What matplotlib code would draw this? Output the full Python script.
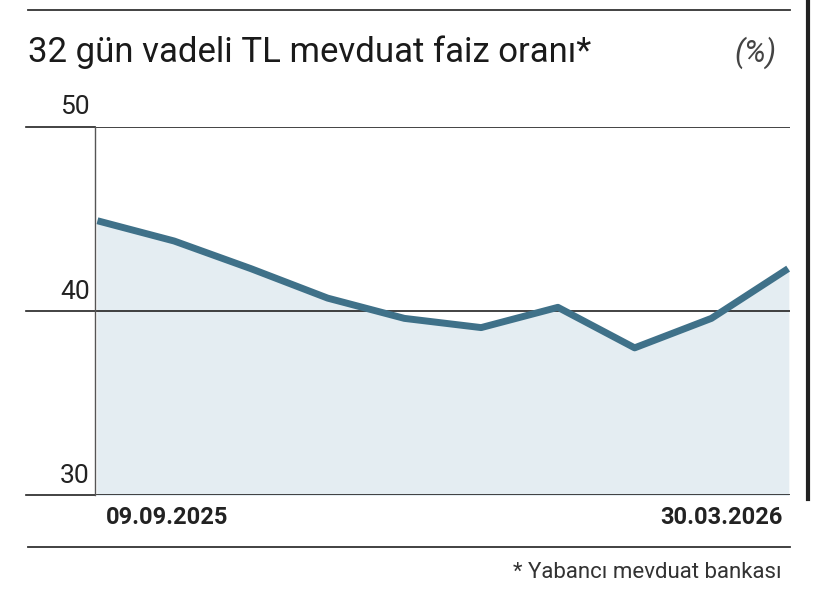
import matplotlib.pyplot as plt
from matplotlib.lines import Line2D

plt.rcParams['font.family'] = ['Liberation Sans Narrow', 'Roboto', 'DejaVu Sans']

# Data
dates = ['09.09.2025', '', '', '', '', '', '', '', '', '30.03.2026']
rates = [44.9, 43.8, 42.3, 40.7, 39.6, 39.1, 40.2, 38.0, 39.6, 42.3]
yticks = [30, 40, 50]

line_col = '#3f7189'
fill_col = '#e4edf2'

fig = plt.figure(figsize=(8.2, 6.01), dpi=100)
fig.set_facecolor('white')
ax = fig.add_axes([0.116, 0.176, 0.847, 0.613])

x = list(range(len(rates)))
ax.fill_between(x, rates, 30, color=fill_col, zorder=1)
ax.plot(x, rates, color=line_col, lw=5, solid_capstyle='butt', solid_joinstyle='round', zorder=3)

ax.set_xlim(-0.03, len(rates) - 1 + 0.02)
ax.set_ylim(30, 50)
for v in yticks:
    ax.axhline(v, color='#222222', lw=1.2, zorder=2)
    # extend the rule to the left of the axis
    ax.plot([-0.1, 0], [v, v], transform=ax.get_yaxis_transform(), color='#222222',
            lw=1.2, clip_on=False)
    ax.text(-0.008, v + 0.4, str(v), transform=ax.get_yaxis_transform(),
            ha='right', va='bottom', fontsize=19, color='#222222')
for s in ['top', 'right', 'bottom']:
    ax.spines[s].set_visible(False)
ax.spines['left'].set_color('#555555')
ax.spines['left'].set_linewidth(1)
ax.set_xticks([])
ax.set_yticks([])

ax.text(0.015, -0.03, dates[0], transform=ax.transAxes, ha='left', va='top',
        fontsize=17, fontweight='bold', color='#222222')
ax.text(0.99, -0.03, dates[-1], transform=ax.transAxes, ha='right', va='top',
        fontsize=17, fontweight='bold', color='#222222')

# Decorations: top rule, bottom rule, right edge
fig.add_artist(Line2D([0.034, 0.963], [0.983, 0.983], color='#333333', lw=1.3))
fig.add_artist(Line2D([0.034, 0.963], [0.09, 0.09], color='#333333', lw=1.3))
fig.add_artist(Line2D([0.985, 0.985], [0.17, 1.0], color='#222222', lw=3))

fig.text(0.034, 0.913, '32 gün vadeli TL mevduat faiz oranı*', fontsize=25,
         color='#1a1a1a', va='center', ha='left')
fig.text(0.895, 0.913, '(%)', fontsize=22, style='italic', color='#444444',
         va='center', ha='left')
fig.text(0.953, 0.048, '* Yabancı mevduat bankası', fontsize=16,
         color='#333333', ha='right', va='center')

fig.savefig('out.png', dpi=100, facecolor='white')
